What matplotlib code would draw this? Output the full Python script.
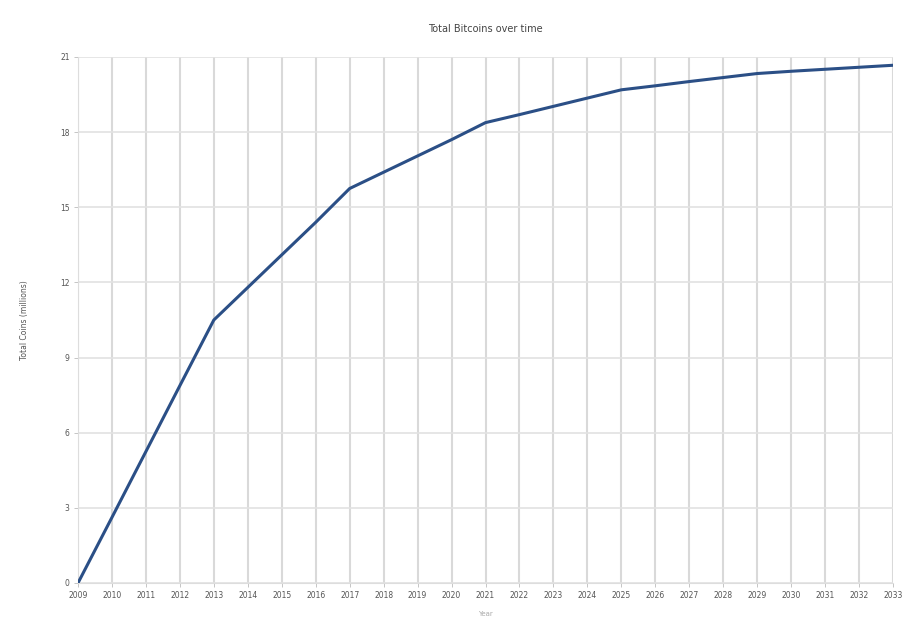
import matplotlib

matplotlib.use("Agg")
import matplotlib.pyplot as plt

# values (millions of coins, start of each year)
years = list(range(2009, 2034))
total_coins = [
    0.0, 2.62, 5.25, 7.88, 10.5, 11.8, 13.1, 14.4, 15.75, 16.4,
    17.05, 17.7, 18.38, 18.7, 19.03, 19.36, 19.69, 19.85, 20.02, 20.18,
    20.34, 20.43, 20.51, 20.59, 20.67,
]
y_ticks = [0, 3, 6, 9, 12, 15, 18, 21]

fig = plt.figure(figsize=(9.06, 6.17), dpi=100)
ax = fig.add_axes([78 / 906, 1 - 583 / 617, (893 - 78) / 906, (583 - 57) / 617])

ax.plot(years, total_coins, color="#2b4f86", linewidth=2.2, solid_capstyle="round", zorder=3)

ax.set_xlim(2009, 2033)
ax.set_ylim(0, 21)
ax.set_xticks(years)
ax.set_xticklabels([str(y) for y in years], fontsize=5.5, color="#555555")
ax.set_yticks(y_ticks)
ax.set_yticklabels([str(v) for v in y_ticks], fontsize=5.5, color="#555555")
ax.tick_params(length=3, width=0.6, color="#bbbbbb", pad=3)

ax.grid(True, axis="x", color="#d9d9d9", linewidth=1.5)
ax.grid(True, axis="y", color="#e2e2e2", linewidth=1.2)
ax.set_axisbelow(True)
for side in ("top", "right"):
    ax.spines[side].set_visible(False)
for side in ("left", "bottom"):
    ax.spines[side].set_color("#dddddd")

ax.set_title("Total Bitcoins over time", fontsize=7, color="#444444", pad=18)
ax.set_ylabel("Total Coins (millions)", fontsize=5.5, color="#555555", labelpad=22)
ax.set_xlabel("Year", fontsize=5, color="#aaaaaa", labelpad=8)

fig.savefig("out.png", dpi=100)
